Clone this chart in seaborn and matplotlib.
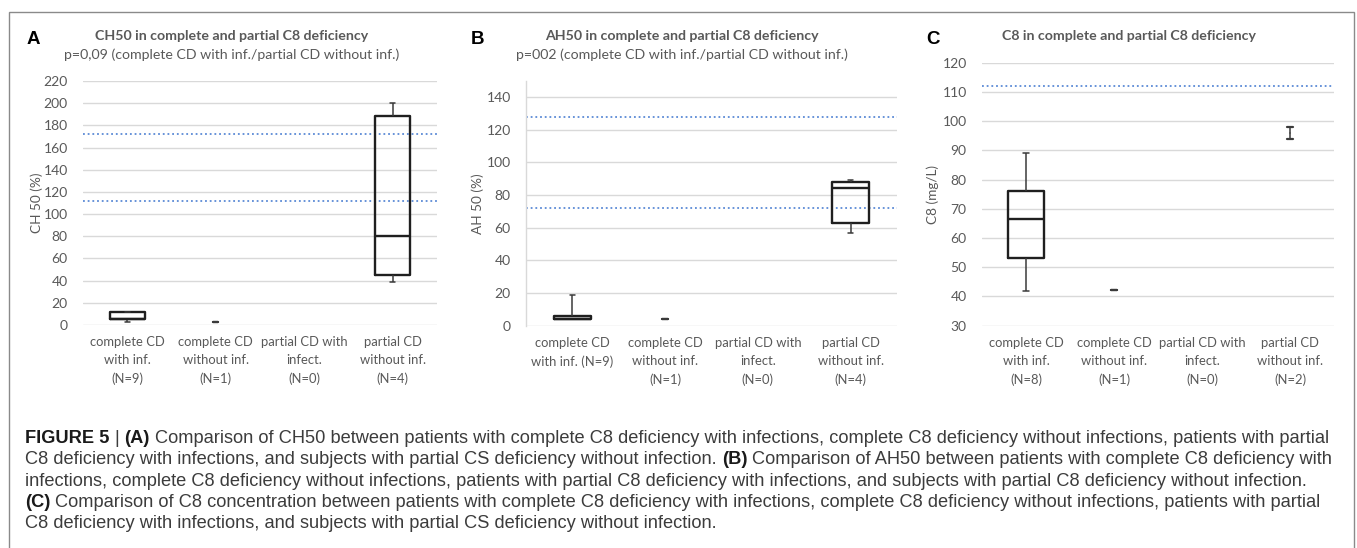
import numpy as np
import pandas as pd
import matplotlib
matplotlib.use("Agg")
import matplotlib.pyplot as plt
import seaborn as sns
from matplotlib.patches import Rectangle
from matplotlib import font_manager as fm

# ---------------- data ----------------
labels_a = ["complete CD\nwith inf.\n(N=9)", "complete CD\nwithout inf.\n(N=1)",
            "partial CD with\ninfect.\n(N=0)", "partial CD\nwithout inf.\n(N=4)"]
labels_b = ["complete CD\nwith inf. (N=9)", "complete CD\nwithout inf.\n(N=1)",
            "partial CD with\ninfect.\n(N=0)", "partial CD\nwithout inf.\n(N=4)"]
labels_c = ["complete CD\nwith inf.\n(N=8)", "complete CD\nwithout inf.\n(N=1)",
            "partial CD with\ninfect.\n(N=0)", "partial CD\nwithout inf.\n(N=2)"]

n_a = [9, 1, 0, 4]
n_b = [9, 1, 0, 4]
n_c = [8, 1, 0, 2]

# five-number summaries: min, Q1, median, Q3, max
ch50_five = [[3, 5, 5, 12, 12], [3, 3, 3, 3, 3], [], [39, 45, 80, 188, 200]]
ah50_five = [[3.8, 3.8, 4.2, 5.8, 18.5], [4, 4, 4, 4, 4], [], [57, 63, 84, 88, 89]]
c8_five = [[42, 53, 66.6, 76, 89], [42.3, 42.3, 42.3, 42.3, 42.3], [], [94, 96, 96, 96, 98]]

ref_a = [112, 172]
ref_b = [72, 128]
ref_c = [112]

yticks_a = list(range(0, 221, 20))
yticks_b = list(range(0, 141, 20))
yticks_c = list(range(30, 121, 10))

titles = ["CH50 in complete and partial C8 deficiency",
          "AH50 in complete and partial C8 deficiency",
          "C8 in complete and partial C8 deficiency"]
subtitles = ["p=0,09 (complete CD with inf./partial CD without inf.)",
             "p=002 (complete CD with inf./partial CD without inf.)",
             None]
ylabels = ["CH 50 (%)", "AH 50 (%)", "C8 (mg/L)"]
panel_letters = ["A", "B", "C"]

caption_lines = [
    [("FIGURE 5", True), ("|", False), ("(A)", True),
     ("Comparison of CH50 between patients with complete C8 deficiency with infections, complete C8 deficiency without infections, patients with partial", False)],
    [("C8 deficiency with infections, and subjects with partial CS deficiency without infection.", False), ("(B)", True),
     ("Comparison of AH50 between patients with complete C8 deficiency with", False)],
    [("infections, complete C8 deficiency without infections, patients with partial C8 deficiency with infections, and subjects with partial C8 deficiency without infection.", False)],
    [("(C)", True),
     ("Comparison of C8 concentration between patients with complete C8 deficiency with infections, complete C8 deficiency without infections, patients with partial", False)],
    [("C8 deficiency with infections, and subjects with partial CS deficiency without infection.", False)],
]

# ---------------- style ----------------
sns.set_theme(style="white")
plt.rcParams['font.family'] = ['Lato', 'DejaVu Sans']

TXT = "#595959"
GRID = "#d9d9d9"
BOX = "#1f1f1f"
WHISK = "#3a3a3a"
REF = "#5b8ad6"

W, H = 1357, 548
fig = plt.figure(figsize=(W / 100, H / 100), dpi=100)
fig.patch.set_facecolor("white")


def add_axes_px(l, t, r, b):
    return fig.add_axes([l / W, 1 - b / H, (r - l) / W, (b - t) / H])


def draw_panel(ax, labels, five, counts, ylim, yticks, refs, left_spine=False):
    rows = []
    for lab, vals, n in zip(labels, five, counts):
        if n >= 3:
            rows += [(lab, v) for v in vals]
    df = pd.DataFrame(rows, columns=["group", "value"])
    sns.boxplot(data=df, x="group", y="value", order=labels, whis=(0, 100),
                width=0.4, fill=False, color=BOX, linewidth=1.7,
                showfliers=False, capwidths=0.06,
                whiskerprops=dict(linewidth=1.1, color=WHISK),
                capprops=dict(linewidth=1.1, color=WHISK),
                ax=ax)
    for i, (vals, n) in enumerate(zip(five, counts)):
        if 1 <= n < 3:
            st = dict(whislo=vals[0], q1=vals[1], med=vals[2], q3=vals[3],
                      whishi=vals[4], fliers=[])
            ax.bxp([st], positions=[i], widths=0.4, showbox=False, showcaps=True,
                   capwidths=0.06, showfliers=False,
                   medianprops=dict(visible=False),
                   whiskerprops=dict(linewidth=1.1, color=WHISK),
                   capprops=dict(linewidth=1.6, color=WHISK),
                   manage_ticks=False)
    for r in refs:
        ax.axhline(r, color=REF, linewidth=1.3, linestyle=(0, (1, 1.6)), zorder=1)
    ax.set_xlim(-0.5, 3.5)
    ax.set_ylim(*ylim)
    ax.set_yticks(yticks)
    ax.set_xticks(range(len(labels)))
    ax.set_xticklabels(labels, linespacing=1.6)
    ax.set_xlabel("")
    ax.set_ylabel("")
    ax.grid(axis="y", color=GRID, linewidth=1.0)
    ax.grid(axis="x", visible=False)
    ax.set_axisbelow(True)
    for s in ax.spines.values():
        s.set_visible(False)
    if left_spine:
        ax.spines["left"].set_visible(True)
        ax.spines["left"].set_color(GRID)
        ax.spines["left"].set_linewidth(1.0)
    ax.tick_params(axis="y", length=0, colors=TXT, labelsize=10, pad=11)
    ax.tick_params(axis="x", length=0, colors=TXT, labelsize=9.4, pad=8)
    ax.set_facecolor("white")


axA = add_axes_px(83, 81, 437, 325)
axB = add_axes_px(526, 80.7, 897, 325.7)
axC = add_axes_px(982, 62.7, 1334, 325.7)

draw_panel(axA, labels_a, ch50_five, n_a, (0, 220), yticks_a, ref_a)
draw_panel(axB, labels_b, ah50_five, n_b, (0, 150), yticks_b, ref_b, left_spine=True)
draw_panel(axC, labels_c, c8_five, n_c, (30, 120), yticks_c, ref_c)


def ftext(xp, yp, s, **kw):
    return fig.text(xp / W, 1 - yp / H, s, **kw)


# panel letters, titles, y labels
letter_pos = [(33, 39), (477, 39), (933, 39)]
title_x = [232, 682, 1129]
ylab_pos = [(37, 203), (478, 204), (933, 194)]
for i in range(3):
    ftext(*letter_pos[i], panel_letters[i], fontsize=13.5, fontweight="bold",
          family=["Liberation Sans", "DejaVu Sans"], color="black", ha="center", va="center")
    ftext(title_x[i], 36, titles[i], fontsize=10.2, fontweight="bold", color=TXT,
          ha="center", va="center")
    if subtitles[i]:
        ftext(title_x[i], 55, subtitles[i], fontsize=10.2, color=TXT,
              ha="center", va="center")
    ftext(*ylab_pos[i], ylabels[i], fontsize=9.8, color=TXT, rotation=90,
          ha="center", va="center")

# outer frame
fig.patches.append(Rectangle((9 / W, -0.05), (1354 - 9) / W, 1.05 - 12 / H,
                             transform=fig.transFigure, fill=False,
                             edgecolor="#8a8a8a", linewidth=1.0))

# caption
names = {f.name for f in fm.fontManager.ttflist}
cap_family = ["Liberation Sans Narrow"] if "Liberation Sans Narrow" in names else ["Liberation Sans"]
cap_family = cap_family + ["DejaVu Sans"]
renderer = fig.canvas.get_renderer()


def seg_width(s, size, bold):
    t = fig.text(0, 0, s, fontsize=size, fontweight="bold" if bold else "normal",
                 family=cap_family)
    w = t.get_window_extent(renderer).width
    t.remove()
    return w


size0 = 12
space0 = seg_width("a a", size0, False) - seg_width("aa", size0, False)
w_line1 = sum(seg_width(s, size0, b) for s, b in caption_lines[0]) + space0 * (len(caption_lines[0]) - 1)
cap_size = size0 * 1305 / w_line1
space = space0 * cap_size / size0

baselines = [443, 464, 486, 507, 528]
for line, yb in zip(caption_lines, baselines):
    x = 25
    for s, bold in line:
        t = ftext(x, yb, s, fontsize=cap_size, fontweight="bold" if bold else "normal",
                  family=cap_family, color="#1a1a1a" if bold else "#3c3c3c",
                  ha="left", va="baseline")
        x += t.get_window_extent(renderer).width + space

fig.savefig("out.png", dpi=100, facecolor="white")
